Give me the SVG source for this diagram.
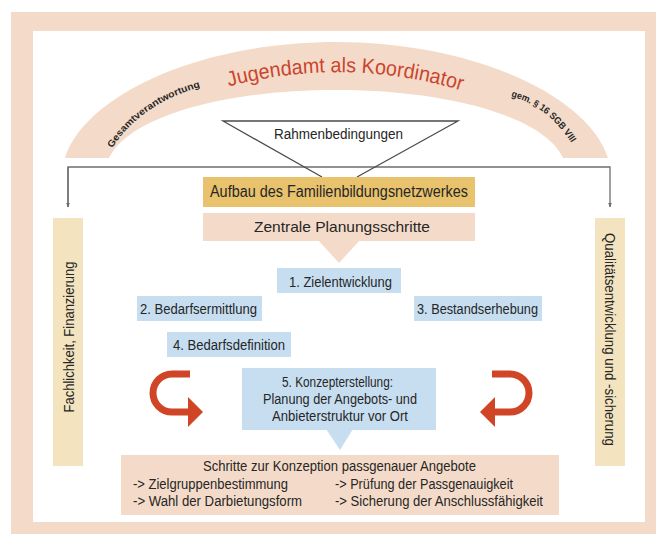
<svg xmlns="http://www.w3.org/2000/svg" width="656" height="534" viewBox="0 0 656 534">
<defs>
<style>
.t{font-family:"Liberation Sans Narrow","Liberation Sans",Arial,sans-serif;fill:#262626;}
.peach{fill:#f4dbc9;}
.blue{fill:#c7def1;}
.bar{fill:#f3e4bf;}
.red{fill:none;stroke:#cf4526;stroke-width:7;}
.redf{fill:#cf4526;}
.conn{fill:none;stroke:#6e6e6e;stroke-width:1.3;}
.tri{fill:none;stroke:#4a4a4a;stroke-width:1.3;}
</style>
<marker id="ah" viewBox="0 0 10 10" refX="9" refY="5" markerWidth="5" markerHeight="5" orient="auto" markerUnits="userSpaceOnUse">
<path d="M0,1 L10,5 L0,9 z" fill="#6e6e6e"/>
</marker>
<path id="pJug" d="M200,95 Q345,47 490,100"/>
<path id="pGes" d="M111,150 Q142,100 212,84"/>
<path id="pGem" d="M509,96 Q552,106 578,154"/>
</defs>
<rect width="656" height="534" fill="#ffffff"/>
<g id="frame">
<rect x="11" y="12" width="645" height="522" class="peach"/>
<rect x="33" y="31" width="612" height="491" fill="#ffffff"/>
</g>
<g id="arch">
<path class="peach" d="M65,158 C85,95 200,42 336,42 C472,42 588,95 608,158 L563,158 C545,118 452,90 336,90 C220,90 128,118 109,158 Z"/>
<text font-family="Liberation Sans, Arial, sans-serif" font-size="21" fill="#c9452f" text-anchor="middle" textLength="236" lengthAdjust="spacingAndGlyphs"><textPath href="#pJug" startOffset="50%">Jugendamt als Koordinator</textPath></text>
<text class="t" font-size="9.5" font-weight="bold" textLength="110" lengthAdjust="spacingAndGlyphs"><textPath href="#pGes" startOffset="2">Gesamtverantwortung</textPath></text>
<text class="t" font-size="9.5" font-weight="bold" textLength="78" lengthAdjust="spacingAndGlyphs"><textPath href="#pGem" startOffset="2">gem. § 16 SGB VIII</textPath></text>
</g>
<g id="connectors">
<polyline class="conn" points="68,207 68,167 610,167 610,207" marker-end="url(#ah)"/>
<line class="conn" x1="68" y1="167" x2="68" y2="207" marker-end="url(#ah)"/>
<path class="red" d="M190,374 H172 A19,19 0 0 0 172,412 H190"/>
<polygon class="redf" points="188,397 203,412 188,427"/>
<path class="red" d="M492,374 H510 A19,19 0 0 1 510,412 H494"/>
<polygon class="redf" points="495,397 480,412 495,427"/>
</g>
<g id="rahmen">
<polyline class="tri" points="322,177 223,121 458,121 357,177"/>
<text class="t" x="338.5" y="139" font-size="14" text-anchor="middle" textLength="129" lengthAdjust="spacingAndGlyphs">Rahmenbedingungen</text>
</g>
<g id="aufbau">
<rect x="203" y="177" width="272" height="30" fill="#e8c26c"/>
<text class="t" x="339" y="197" font-size="16" text-anchor="middle" textLength="258" lengthAdjust="spacingAndGlyphs">Aufbau des Familienbildungsnetzwerkes</text>
</g>
<g id="zentrale">
<rect x="203" y="213" width="272" height="28" class="peach"/>
<polygon class="peach" points="318,240 360,240 339,263"/>
<text class="t" x="342" y="232" font-size="15" text-anchor="middle" textLength="176" lengthAdjust="spacingAndGlyphs">Zentrale Planungsschritte</text>
</g>
<g id="step1">
<rect x="277" y="268" width="124" height="25" class="blue"/>
<text class="t" x="340.5" y="287" font-size="14" text-anchor="middle" textLength="103" lengthAdjust="spacingAndGlyphs">1. Zielentwicklung</text>
</g>
<g id="step2">
<rect x="137" y="296" width="125" height="25" class="blue"/>
<text class="t" x="198.5" y="314" font-size="14" text-anchor="middle" textLength="117" lengthAdjust="spacingAndGlyphs">2. Bedarfsermittlung</text>
</g>
<g id="step3">
<rect x="414" y="296" width="128" height="25" class="blue"/>
<text class="t" x="477.5" y="314" font-size="14" text-anchor="middle" textLength="121" lengthAdjust="spacingAndGlyphs">3. Bestandserhebung</text>
</g>
<g id="step4">
<rect x="167" y="332" width="124" height="25" class="blue"/>
<text class="t" x="229" y="350" font-size="14" text-anchor="middle" textLength="112" lengthAdjust="spacingAndGlyphs">4. Bedarfsdefinition</text>
</g>
<g id="step5">
<rect x="242" y="368" width="194" height="62" class="blue"/>
<polygon class="blue" points="326,429 353,429 340,450"/>
<text class="t" x="337.5" y="387" font-size="14" text-anchor="middle" textLength="111" lengthAdjust="spacingAndGlyphs">5. Konzepterstellung:</text>
<text class="t" x="340" y="404" font-size="14" text-anchor="middle" textLength="154" lengthAdjust="spacingAndGlyphs">Planung der Angebots- und</text>
<text class="t" x="340" y="421" font-size="14" text-anchor="middle" textLength="136" lengthAdjust="spacingAndGlyphs">Anbieterstruktur vor Ort</text>
</g>
<g id="schritte">
<rect x="121" y="455" width="438" height="60" class="peach"/>
<text class="t" x="339.5" y="471" font-size="14" text-anchor="middle" textLength="273" lengthAdjust="spacingAndGlyphs">Schritte zur Konzeption passgenauer Angebote</text>
<text class="t" x="133" y="489" font-size="14" textLength="155" lengthAdjust="spacingAndGlyphs">-&gt; Zielgruppenbestimmung</text>
<text class="t" x="133" y="506" font-size="14" textLength="169" lengthAdjust="spacingAndGlyphs">-&gt; Wahl der Darbietungsform</text>
<text class="t" x="335" y="489" font-size="14" textLength="178" lengthAdjust="spacingAndGlyphs">-&gt; Prüfung der Passgenauigkeit</text>
<text class="t" x="335" y="506" font-size="14" textLength="208" lengthAdjust="spacingAndGlyphs">-&gt; Sicherung der Anschlussfähigkeit</text>
</g>
<g id="fachlichkeit">
<rect x="53" y="218" width="30" height="248" class="bar"/>
<text class="t" transform="translate(73.5,337) rotate(-90)" font-size="14" text-anchor="middle" textLength="151" lengthAdjust="spacingAndGlyphs">Fachlichkeit, Finanzierung</text>
</g>
<g id="qualitaet">
<rect x="595" y="218" width="30" height="248" class="bar"/>
<text class="t" transform="translate(604.5,339.5) rotate(90)" font-size="14" text-anchor="middle" textLength="213" lengthAdjust="spacingAndGlyphs">Qualitätsentwicklung und -sicherung</text>
</g>
</svg>
